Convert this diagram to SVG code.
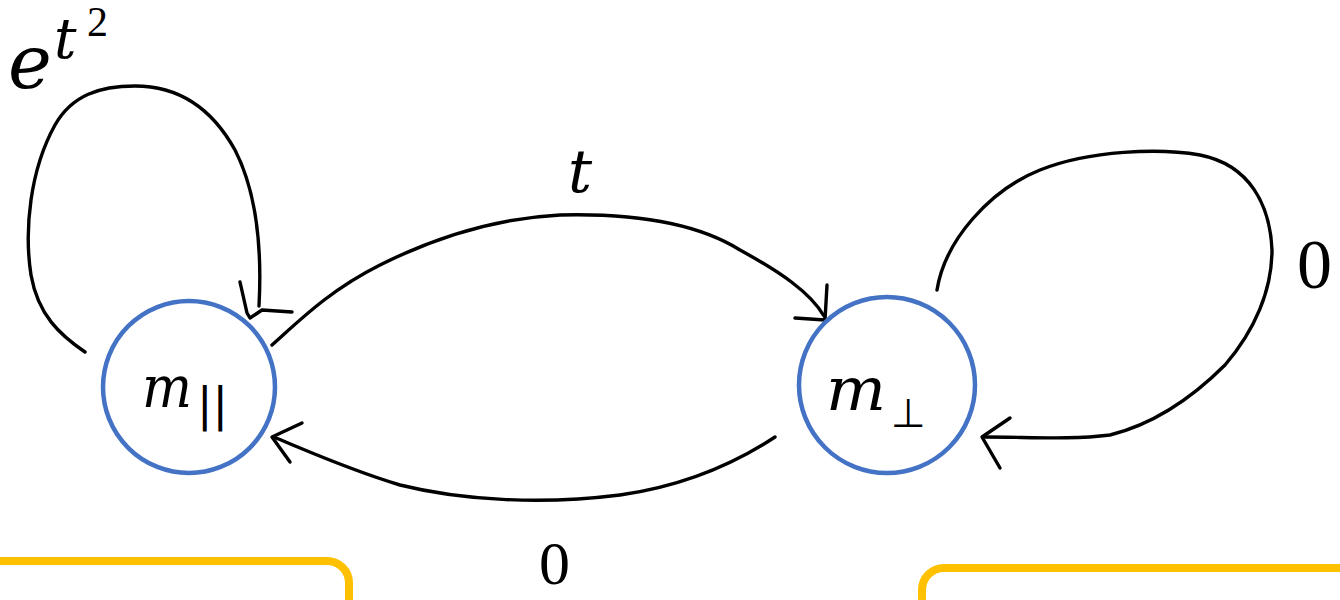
<svg xmlns="http://www.w3.org/2000/svg" width="1340" height="600" viewBox="0 0 1340 600">
<style>
.node{fill:#fff;stroke:#4472C4;stroke-width:4.5}
.edge{fill:none;stroke:#000;stroke-width:3.4;stroke-linecap:round;stroke-linejoin:round}
.math{font-family:"DejaVu Serif","Liberation Serif",serif;font-style:italic;fill:#000}
.num{font-family:"Liberation Serif","DejaVu Serif",serif;fill:#000}
.frame{fill:none;stroke:#FFC000;stroke-width:8}
</style>
<rect width="1340" height="600" fill="#fff"/>
<g id="connectors">
  <path class="edge" d="M85,352 C60,335 38,315 31,275 C24,230 30,170 55,125 C72,95 100,86 135,86 C175,86 210,105 235,150 C258,195 262,250 259,306"/>
  <path class="edge" d="M240,282 L247,313 L250,318 L262,310 L292,312"/>
  <path class="edge" d="M272,345 C300,320 330,290 380,265 C440,235 500,218 560,215 C640,213 700,225 740,250 C780,272 810,292 824,316"/>
  <path class="edge" d="M827,285 L825,320 L795,318"/>
  <path class="edge" d="M775,437 C740,460 690,485 620,495 C540,505 460,500 400,485 C350,470 310,452 276,438"/>
  <path class="edge" d="M302,423 L272,437 L290,462"/>
  <path class="edge" d="M937,290 C945,240 990,190 1040,170 C1090,150 1160,148 1200,155 C1250,165 1270,205 1272,250 C1272,290 1255,330 1225,365 C1190,400 1150,425 1110,435 C1070,440 1030,437 985,437"/>
  <path class="edge" d="M1010,418 L982,437 L1000,468"/>
</g>
<g id="node-m-par">
  <circle class="node" cx="189" cy="387" r="86"/>
  <text class="math" x="142" y="407" font-size="58" textLength="50" lengthAdjust="spacingAndGlyphs">m</text>
  <text x="197" y="420" style="font-family:'DejaVu Sans',sans-serif;font-size:46px;fill:#000">||</text>
</g>
<g id="node-m-perp">
  <circle class="node" cx="887" cy="385" r="88"/>
  <text class="math" x="826" y="410" font-size="60" textLength="60" lengthAdjust="spacingAndGlyphs">m</text>
  <text x="891" y="427" style="font-family:'DejaVu Sans',sans-serif;font-size:40px;fill:#000">⊥</text>
</g>
<g id="labels">
  <text class="math" x="8" y="88" font-size="74">e</text>
  <text class="math" x="54" y="58" font-size="56">t</text>
  <text class="num" x="87" y="36" font-size="42">2</text>
  <text class="math" x="568" y="192" font-size="60">t</text>
  <text class="num" x="1297" y="288" font-size="70">0</text>
  <text class="num" x="539" y="584" font-size="62">0</text>
</g>
<g id="frames">
  <path class="frame" d="M0,561 L327,561 A22,22 0 0 1 349,583 L349,604"/>
  <path class="frame" d="M922,604 L922,590 A22,22 0 0 1 944,568 L1344,568"/>
</g>
</svg>
